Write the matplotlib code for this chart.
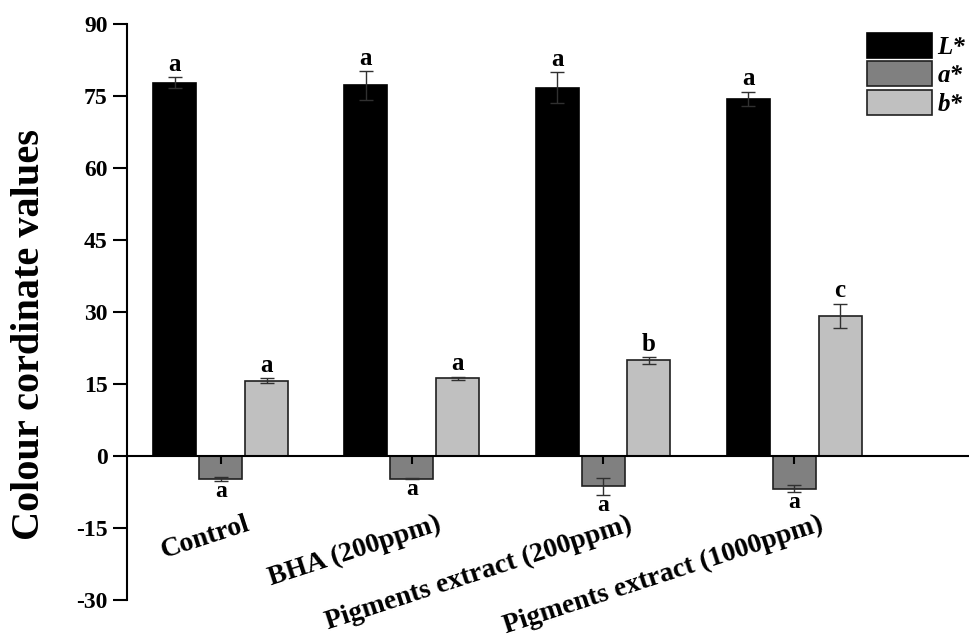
import matplotlib
matplotlib.use("Agg")
import matplotlib.pyplot as plt
from matplotlib.patches import Patch
import numpy as np

plt.rcParams['font.family'] = ['Liberation Serif', 'DejaVu Serif']
plt.rcParams['font.weight'] = 'bold'

# Treatments and colour coordinates (mean, SD)
treatments = ["Control", "BHA (200ppm)", "Pigments extract (200ppm)",
              "Pigments extract (1000ppm)"]
L_vals = [77.8, 77.2, 76.7, 74.4]
L_err = [1.1, 3.0, 3.2, 1.5]
a_vals = [-4.8, -4.7, -6.3, -6.8]
a_err = [0.4, 0.2, 1.8, 0.8]
b_vals = [15.7, 16.2, 19.9, 29.2]
b_err = [0.5, 0.3, 0.7, 2.5]
L_letters = ["a", "a", "a", "a"]
a_letters = ["a", "a", "a", "a"]
b_letters = ["a", "a", "b", "c"]
series_names = ["L*", "a*", "b*"]
y_ticks = [-30, -15, 0, 15, 30, 45, 60, 75, 90]

fig = plt.figure(figsize=(9.7, 6.41), dpi=100)
ax = fig.add_axes([0.131, 0.064, 0.869, 0.8986])

x = np.arange(len(treatments))
w = 0.225
off = 0.24
colors = ["#000000", "#808080", "#c0c0c0"]
edges = ["#000000", "#202020", "#202020"]
ekw = dict(ecolor="#303030", elinewidth=1.0, capsize=5, capthick=1.0)

series = [(L_vals, L_err, L_letters), (a_vals, a_err, a_letters),
          (b_vals, b_err, b_letters)]
for k, (vals, errs, letters) in enumerate(series):
    xs = x + (k - 1) * off
    ax.bar(xs, vals, width=w, color=colors[k], edgecolor=edges[k],
           linewidth=1.2, zorder=1)
    ax.errorbar(xs, vals, yerr=errs, fmt="none", zorder=3, **ekw)
    for xi, v, e, lt in zip(xs, vals, errs, letters):
        if v >= 0:
            ax.annotate(lt, (xi, v + e), xytext=(0, 1), textcoords="offset points",
                        ha="center", va="bottom", fontsize=18, fontweight="bold")
        else:
            ax.annotate(lt, (xi, v - e), xytext=(0, 0), textcoords="offset points",
                        ha="center", va="top", fontsize=17, fontweight="bold")

ax.set_xlim(-0.49, 3.92)
ax.set_ylim(-30, 90)
ax.set_yticks(y_ticks)
ax.set_yticklabels([str(t) for t in y_ticks], fontsize=17, fontweight="bold")

ax.spines["top"].set_visible(False)
ax.spines["right"].set_visible(False)
ax.spines["bottom"].set_position(("data", 0))
ax.spines["left"].set_linewidth(1.5)
ax.spines["bottom"].set_linewidth(1.5)
ax.tick_params(axis="y", direction="out", length=10, width=1.5, pad=4)
ax.set_xticks(x)
ax.set_xticklabels([])
ax.tick_params(axis="x", direction="out", length=6, width=1.5)

for xi, name in zip(x, treatments):
    ax.text(xi + 0.13, -11.6, name, rotation=18, rotation_mode="anchor",
            ha="right", va="top", fontsize=20, fontweight="bold")

fig.text(30 / 970, 1 - 335 / 641, "Colour cordinate values", rotation=90,
         ha="center", va="center", fontsize=29, fontweight="bold")

handles = [Patch(facecolor=colors[k], edgecolor=edges[k], linewidth=1.2)
           for k in range(3)]
leg = fig.legend(handles, series_names, loc="upper right",
                 bbox_to_anchor=(965 / 970, 1 - 33 / 641), frameon=False,
                 prop=dict(family="Liberation Serif", weight="bold",
                           style="italic", size=18),
                 handlelength=2.6, handleheight=1.15, labelspacing=0.1,
                 handletextpad=0.2, borderpad=0, borderaxespad=0)

fig.savefig("out.png", dpi=100)
